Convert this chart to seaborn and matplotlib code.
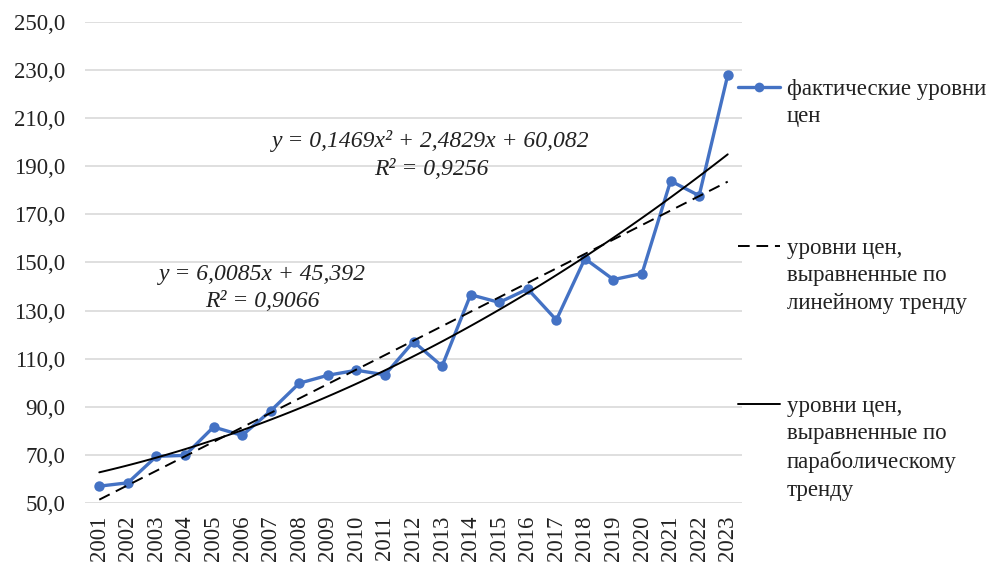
import numpy as np
import pandas as pd
import matplotlib
matplotlib.use("Agg")
import matplotlib.pyplot as plt
import seaborn as sns
from matplotlib.lines import Line2D
from matplotlib.ticker import FuncFormatter

years = list(range(2001, 2024))
t = list(range(1, 24))
prices = [57.0, 58.4, 69.4, 69.8, 81.6, 78.1, 88.3, 99.8, 103.1, 105.2, 103.3,
          117.1, 106.9, 136.6, 133.4, 139.0, 126.1, 151.6, 142.9, 145.4, 183.9,
          177.8, 227.9]
yticks = [50, 70, 90, 110, 130, 150, 170, 190, 210, 230, 250]

labels = ["фактические уровни\nцен",
          "уровни цен,\nвыравненные по\nлинейному тренду",
          "уровни цен,\nвыравненные по\nпараболическому\nтренду"]
eq_lin = "y = 6,0085x + 45,392\nR² = 0,9066"
eq_par = "y = 0,1469x² + 2,4829x + 60,082\nR² = 0,9256"

df = pd.DataFrame({"t": t, "year": years, "price": prices})

sns.set_theme(style="white")
plt.rcParams['font.family'] = ['Liberation Serif', 'DejaVu Serif']

W, H = 991, 562
fig = plt.figure(figsize=(W / 100, H / 100), dpi=100)
ax = fig.add_axes([85 / W, 1 - 503 / H, (742 - 85) / W, (503 - 22) / H])

blue = "#4472C4"
txt = "#222222"
sns.lineplot(data=df, x="t", y="price", ax=ax, color=blue, lw=2.4,
             marker="o", markersize=7.5, markeredgewidth=0, zorder=3)
# trend lines fitted by seaborn
sns.regplot(data=df, x="t", y="price", ax=ax, order=1, scatter=False, ci=None,
            line_kws=dict(color="black", lw=1.4, ls=(0, (6, 3.5)), zorder=4))
sns.regplot(data=df, x="t", y="price", ax=ax, order=2, scatter=False, ci=None,
            line_kws=dict(color="black", lw=1.4, zorder=4))

ax.set_xlim(0.5, 23.5)
ax.set_ylim(50, 250)
ax.set_yticks(yticks)
ax.yaxis.set_major_formatter(FuncFormatter(lambda v, p: f"{v:.1f}".replace(".", ",")))
ax.set_xticks(t)
ax.set_xticklabels([str(y) for y in years], rotation=90)
ax.tick_params(axis="y", length=0, pad=14, labelsize=16.5, colors=txt)
ax.tick_params(axis="x", length=0, pad=9, labelsize=16.5, colors=txt)
ax.grid(axis="y", color="#d9d9d9", lw=1.2)
ax.set_axisbelow(True)
for s in ax.spines.values():
    s.set_visible(False)
ax.set_xlabel("")
ax.set_ylabel("")

# equations
fig.text(262 / W, 1 - 288 / H, eq_lin, ha="center", va="center", fontsize=17,
         style="italic", color=txt, linespacing=1.38)
fig.text(431 / W, 1 - 155 / H, eq_par, ha="center", va="center", fontsize=17,
         style="italic", color=txt, linespacing=1.38)

# legend drawn on the right
entries = [
    (87, dict(color=blue, lw=2.4, marker="o", markersize=7, markevery=[1], markeredgewidth=0)),
    (246, dict(color="black", lw=1.4, ls=(0, (6, 3.5)))),
    (404, dict(color="black", lw=1.4)),
]
for (yp, kw), lab in zip(entries, labels):
    fig.add_artist(Line2D([738 / W, 759 / W, 780 / W], [1 - yp / H] * 3,
                          transform=fig.transFigure, **kw))
    fig.text(787 / W, 1 - (yp - 8) / H, lab, ha="left", va="top", fontsize=16.5,
             color=txt, linespacing=1.40)

fig.savefig("out.png", dpi=100)
